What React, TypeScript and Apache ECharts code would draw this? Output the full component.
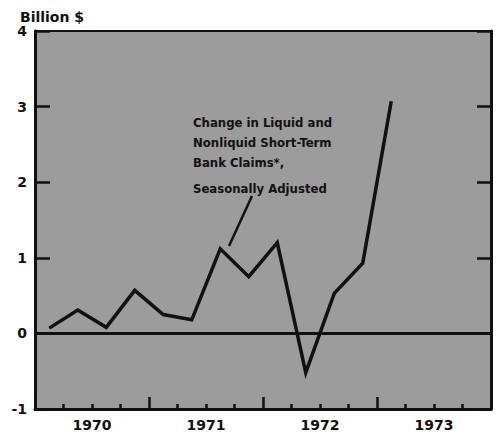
import React, { useEffect, useRef } from "react";
import * as echarts from "echarts";

const quarters = [
  "1970Q1", "1970Q2", "1970Q3", "1970Q4",
  "1971Q1", "1971Q2", "1971Q3", "1971Q4",
  "1972Q1", "1972Q2", "1972Q3", "1972Q4",
  "1973Q1",
];
const claimsChange = [0.07, 0.31, 0.08, 0.57, 0.25, 0.18, 1.12, 0.75, 1.2, -0.52, 0.53, 0.93, 3.07];
const yearLabels = ["1970", "1971", "1972", "1973"];
const annotationLines = [
  "Change in Liquid and",
  "Nonliquid Short-Term",
  "Bank Claims*,",
  "Seasonally Adjusted",
];

export default function App() {
  const ref = useRef<HTMLDivElement>(null);
  useEffect(() => {
    if (!ref.current) return;
    const chart = echarts.init(ref.current, null, { renderer: "svg" });
    const labelFont = { fontFamily: "DejaVu Sans", fontWeight: "bold" as const, fontSize: 14, color: "#111" };
    const annY = [122, 142, 162, 188];
    chart.setOption({
      animation: false,
      backgroundColor: "#ffffff",
      grid: {
        left: 35, right: 7, top: 31, bottom: 25,
        show: true, backgroundColor: "#9c9c9c", borderColor: "#111", borderWidth: 2,
      },
      xAxis: [
        {
          type: "value", min: 0, max: 16, interval: 2, position: "bottom",
          axisLine: { show: true, onZero: false, lineStyle: { color: "#111", width: 3 } },
          axisTick: { show: false },
          splitLine: { show: false },
          axisLabel: {
            ...labelFont, margin: 9,
            formatter: (v: number) => (v % 4 === 2 ? yearLabels[(v - 2) / 4] : ""),
          },
        },
        {
          type: "value", min: 0, max: 16, interval: 4, position: "bottom",
          axisLine: { show: false, onZero: false },
          axisTick: { show: true, inside: true, length: 12, lineStyle: { color: "#111", width: 2.5 } },
          minorTick: { show: true, splitNumber: 4, length: 5, lineStyle: { color: "#111", width: 2.5 } },
          splitLine: { show: false },
          axisLabel: { show: false },
        },
      ],
      yAxis: [
        {
          type: "value", min: -1, max: 4, interval: 1, position: "left",
          axisLine: { show: true, onZero: false, lineStyle: { color: "#111", width: 3 } },
          axisTick: { show: true, inside: true, length: 15, lineStyle: { color: "#111", width: 2.5 } },
          splitLine: { show: false },
          axisLabel: { ...labelFont, margin: 8 },
        },
        {
          type: "value", min: -1, max: 4, interval: 1, position: "right",
          axisLine: { show: true, onZero: false, lineStyle: { color: "#111", width: 3 } },
          axisTick: { show: true, inside: true, length: 14, lineStyle: { color: "#111", width: 2.5 } },
          splitLine: { show: false },
          axisLabel: { show: false },
        },
      ],
      series: [
        {
          type: "line",
          name: "Claims",
          xAxisIndex: 0,
          yAxisIndex: 0,
          data: claimsChange.map((v, i) => [i + 0.5, v, quarters[i]]),
          showSymbol: false,
          symbol: "none",
          lineStyle: { color: "#111", width: 3.5, join: "miter" },
          markLine: {
            silent: true,
            symbol: "none",
            label: { show: false },
            lineStyle: { color: "#111", width: 3, type: "solid" },
            data: [{ yAxis: 0 }],
          },
          z: 5,
        },
      ],
      graphic: [
        {
          type: "text", left: 20, top: 10,
          style: { text: "Billion $", fontFamily: "DejaVu Sans", fontWeight: "bold", fontSize: 14, fill: "#111" },
        },
        ...annotationLines.map((t, i) => ({
          type: "text", x: 193, y: annY[i],
          style: {
            text: t, fontFamily: "DejaVu Sans Condensed", fontWeight: "bold", fontSize: 13,
            fill: "#111", verticalAlign: "middle", align: "left",
          },
        })),
        {
          type: "line",
          shape: { x1: 252, y1: 196, x2: 229, y2: 246 },
          style: { stroke: "#111", lineWidth: 2.5 },
        },
      ],
    });
    return () => chart.dispose();
  }, []);
  return (
    <div
      ref={ref}
      style={{ position: "fixed", left: 0, top: 0, width: 498, height: 434 }}
    />
  );
}
